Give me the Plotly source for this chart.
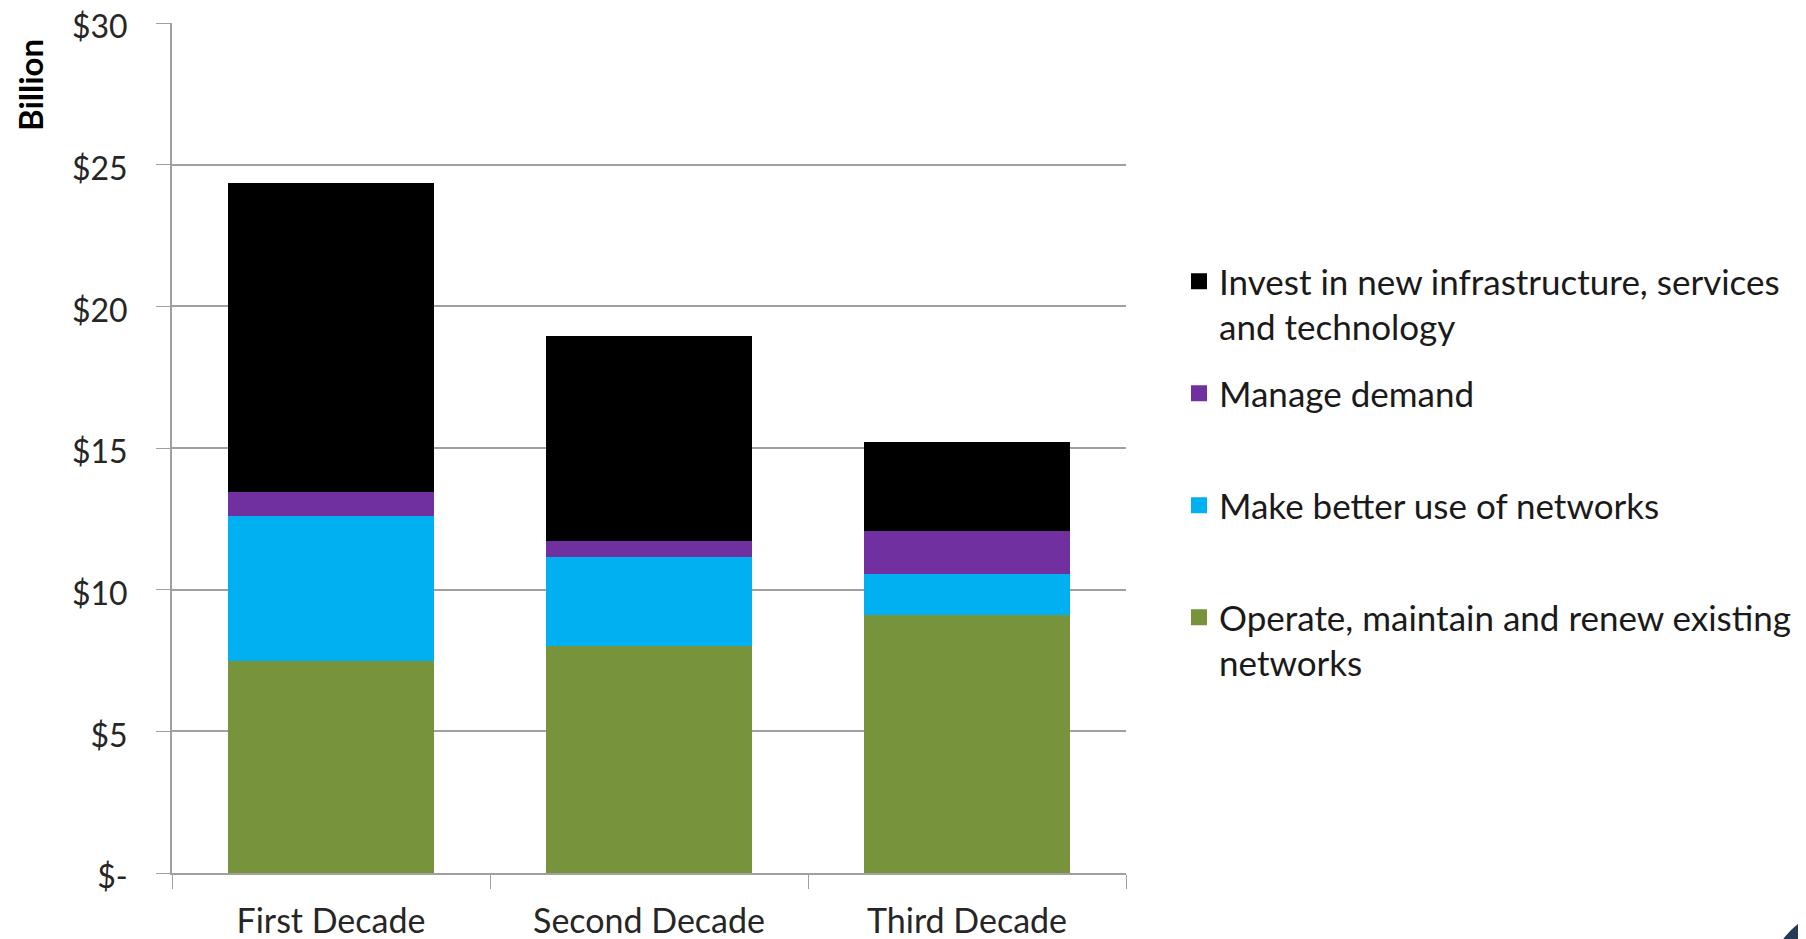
import plotly.graph_objects as go

categories = ["First Decade", "Second Decade", "Third Decade"]
operate = [7.5, 8.0, 9.1]
better_use = [5.1, 3.15, 1.47]
manage = [0.85, 0.56, 1.5]
invest = [10.9, 7.24, 3.13]

series_names = [
    "Operate, maintain and renew existing<br>networks",
    "Make better use of networks<br> ",
    "Manage demand<br> ",
    "Invest in new infrastructure, services<br>and technology",
]
series_values = [operate, better_use, manage, invest]
series_colors = ["#77933C", "#00B0F0", "#7030A0", "#000000"]

tick_vals = [0, 5, 10, 15, 20, 25, 30]
tick_text = ["$-", "$5", "$10", "$15", "$20", "$25", "$30"]

FONT = "Lato"
W, H = 1806, 939
OFF = 8  # page offset of the figure inside the browser window


def px(x):
    return (x - OFF) / W


def py(y):
    return 1 - (y - OFF) / H


fig = go.Figure()
# stacked bars (bottom to top)
for name, vals, col in zip(series_names, series_values, series_colors):
    fig.add_trace(go.Bar(
        x=categories, y=vals, name=name, marker_color=col,
        marker_line_width=0, showlegend=False,
    ))
# legend entries (top of the stack listed first)
for i, (name, col) in enumerate(zip(series_names[::-1], series_colors[::-1])):
    fig.add_trace(go.Scatter(
        x=[None], y=[None], mode="markers", name=name,
        marker=dict(symbol="square", size=16, color=col),
        legendgroup="L%d" % i, showlegend=True, hoverinfo="skip",
    ))

fig.update_layout(
    width=W, height=H,
    barmode="stack", bargap=0.35,
    plot_bgcolor="white", paper_bgcolor="white",
    margin=dict(l=0, r=0, t=0, b=0, autoexpand=False),
    font=dict(family=FONT, color="#262626"),
    xaxis=dict(
        domain=[px(172), px(1126)],
        tickson="boundaries", ticks="outside", ticklen=14,
        tickcolor="#A0A0A0", showline=True, linecolor="#A0A0A0", linewidth=2,
        tickfont=dict(size=34, family=FONT, color="#262626"),
        ticklabelstandoff=17, ticklabeloverflow="allow",
        automargin=False,
    ),
    yaxis=dict(
        domain=[py(873), py(23)],
        range=[0, 30], tickvals=tick_vals, ticktext=tick_text,
        ticks="outside", ticklen=14, tickcolor="#A0A0A0",
        showline=True, linecolor="#A0A0A0", linewidth=2,
        showgrid=True, gridcolor="#A0A0A0", gridwidth=2,
        tickfont=dict(size=32, family=FONT, color="#262626"),
        ticklabelstandoff=22, ticklabelshift=4, ticklabeloverflow="allow",
        zeroline=False, automargin=False,
    ),
    legend=dict(
        x=px(1179), y=py(252), xanchor="left", yanchor="top",
        traceorder="grouped", valign="top",
        font=dict(size=35, family=FONT, color="#1a1a1a"),
        tracegroupgap=18, itemwidth=30, itemsizing="trace",
    ),
    showlegend=True,
    annotations=[dict(
        text="<b>Billion</b>", xref="paper", yref="paper",
        x=px(30), y=py(85), textangle=-90, showarrow=False,
        font=dict(size=33, family=FONT, color="#000000"),
        xanchor="center", yanchor="middle",
    )],
    shapes=[dict(
        type="circle", xref="paper", yref="paper",
        x0=px(1850 - 84), x1=px(1850 + 84),
        y0=py(990 + 84), y1=py(990 - 84),
        fillcolor="#243A55", line_width=0, layer="above",
    )],
)

fig.write_html("out.html")
